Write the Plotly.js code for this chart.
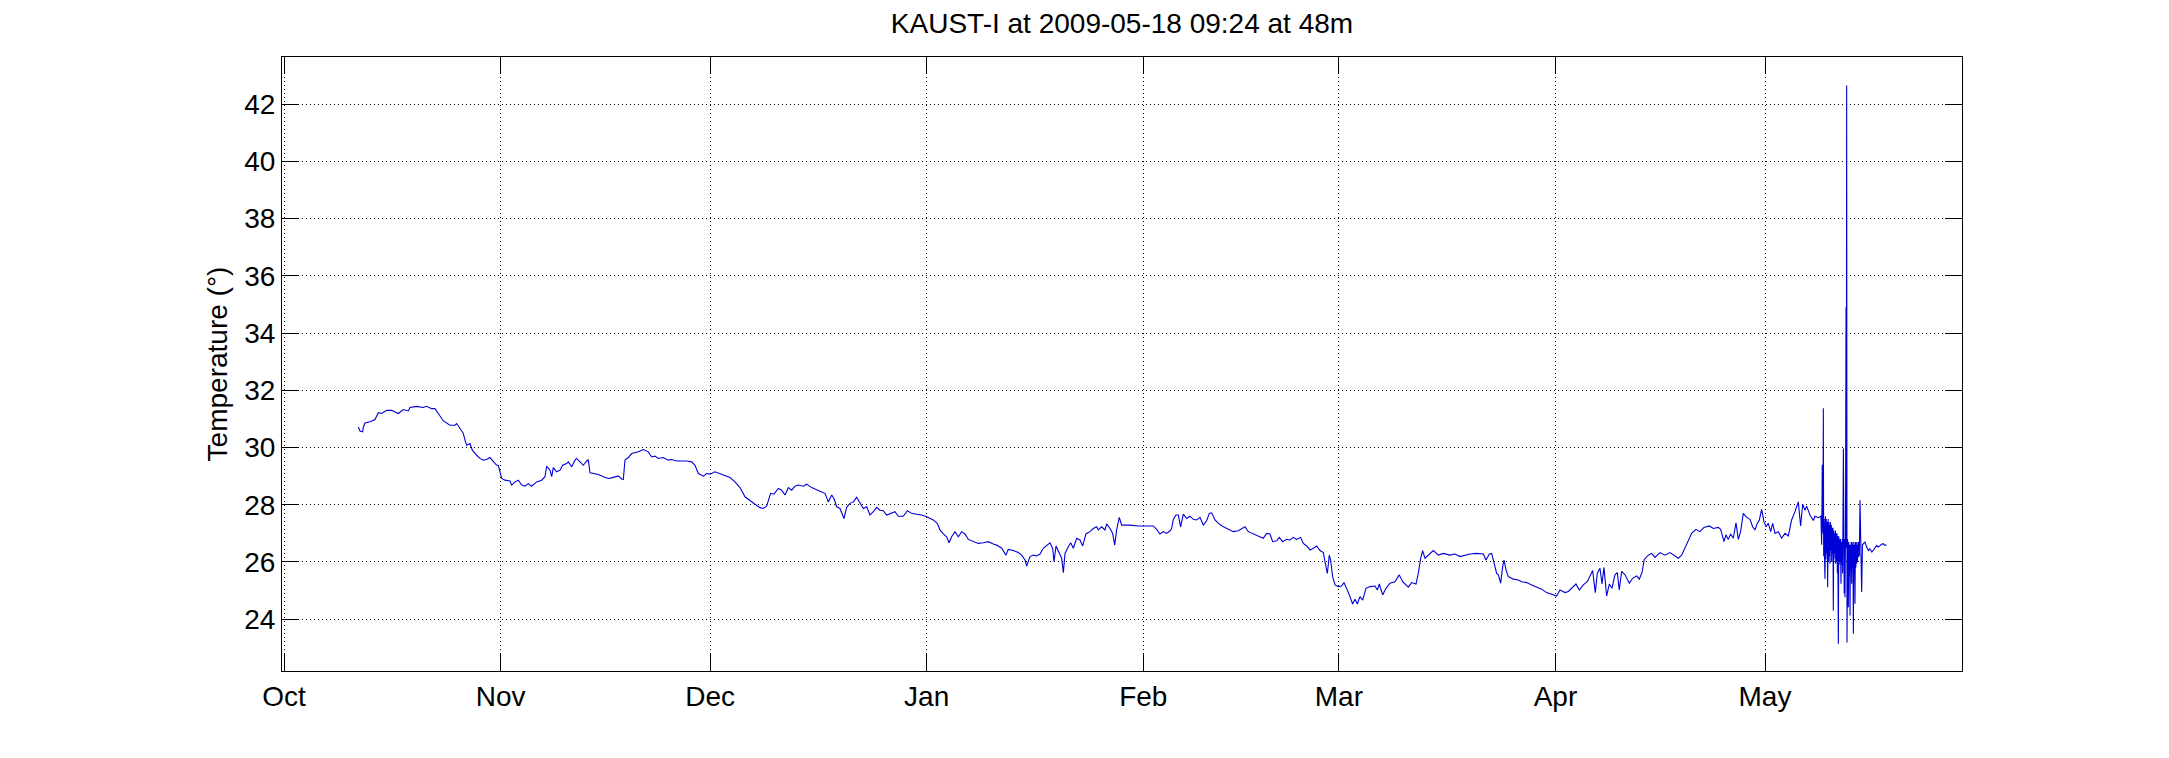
<!DOCTYPE html>
<html>
<head>
<meta charset="utf-8">
<script src="https://cdn.plot.ly/plotly-3.0.1.min.js"></script>
<style>html,body{margin:0;padding:0;background:#fff;}#chart{width:2169px;height:758px;}</style>
</head>
<body>
<div id="chart"></div>
<script>
// days since 2008-10-01 00:00 (UTC) and temperature readings
const seasonStart = '2008-10-01';
const days = [
10.64,10.88,11.26,11.36,11.59,12.31,13.03,13.50,13.98,14.70,15.41,16.37,17.08,17.80,18.04,18.99,19.94,20.42,21.14,21.61,
22.09,22.81,23.76,24.48,24.72,25.19,25.67,25.91,26.15,26.62,26.96,27.58,28.06,28.53,29.01,29.49,29.96,30.44,30.68,30.92,
31.16,31.64,32.35,32.59,33.07,33.54,34.02,34.50,34.97,35.45,36.17,36.88,37.36,37.60,38.08,38.32,38.55,39.03,39.51,39.89,
40.46,40.70,41.18,41.66,41.89,42.37,42.85,43.33,43.56,43.80,44.28,45.00,45.71,46.43,46.90,47.38,47.86,48.34,48.57,48.81,
49.29,49.77,50.24,50.72,51.44,52.15,52.63,53.11,53.58,54.30,55.02,55.49,56.21,57.64,58.36,58.83,59.31,60.03,60.50,60.98,
61.69,62.41,63.13,63.84,64.56,65.27,65.99,66.71,67.42,68.14,68.61,69.09,69.66,70.14,70.76,71.24,71.72,72.19,72.67,73.15,
73.62,74.34,74.82,75.53,76.25,76.96,77.44,77.92,78.40,78.73,79.11,79.59,80.16,80.54,81.02,81.50,81.97,82.45,82.93,83.41,
83.88,84.36,84.84,85.31,85.79,86.27,86.98,87.46,87.94,88.65,89.23,89.85,90.56,91.28,92.00,92.95,93.52,93.90,94.38,94.86,
95.19,95.57,96.05,96.53,97.01,97.48,97.96,98.67,99.39,100.10,100.82,101.54,102.01,102.73,103.35,103.68,104.40,105.12,105.59,106.07,
106.31,106.79,107.26,107.74,108.22,108.69,109.17,109.65,110.03,110.22,110.51,110.84,111.32,111.56,111.80,112.27,112.61,112.99,113.47,113.94,
114.33,114.80,115.37,115.85,116.33,116.57,117.04,117.52,117.76,118.24,118.62,118.91,119.19,119.57,119.91,121.10,122.29,123.49,124.44,124.92,
125.39,125.87,126.35,126.83,127.06,127.30,127.68,128.02,128.35,128.73,129.21,129.69,130.17,130.64,131.12,131.60,132.07,132.46,132.79,133.27,
133.75,134.46,135.18,135.89,136.61,137.09,137.56,138.04,138.75,139.47,140.18,140.66,141.14,141.52,142.09,142.48,142.95,143.53,144.00,144.48,
144.96,145.53,145.91,146.39,146.87,147.34,147.82,148.30,148.78,149.01,149.35,149.63,149.82,150.11,150.45,150.92,151.40,151.73,152.11,152.50,
152.97,153.31,153.64,154.02,154.41,154.88,155.46,156.17,156.51,156.79,157.27,157.74,158.32,159.03,159.65,160.13,160.94,161.42,162.04,162.37,
162.71,162.99,163.33,163.81,164.52,165.24,165.95,166.90,167.62,168.34,169.06,169.78,170.73,171.68,172.06,172.54,172.87,173.21,173.59,173.83,
174.16,174.45,174.64,174.93,175.26,175.97,176.69,177.17,177.88,178.60,179.31,180.03,180.74,181.46,182.18,182.65,183.37,183.85,184.32,184.94,
185.42,185.99,186.56,186.95,187.33,187.71,187.99,188.38,188.67,188.95,189.33,189.71,190.09,190.52,190.86,191.14,191.48,191.96,192.58,193.05,
193.63,194.01,194.39,194.72,195.30,195.77,196.25,196.97,197.68,198.40,199.11,199.59,200.07,200.54,201.02,201.50,202.12,202.69,203.26,204.03,
204.60,205.31,205.65,205.94,206.13,206.41,206.75,207.08,207.46,207.85,208.18,208.51,208.89,209.37,209.85,210.23,210.56,210.90,211.19,211.52,
211.85,212.14,212.48,212.81,213.10,213.43,213.91,214.38,214.86,215.34,215.81,216.29,216.77,217.10,217.39,217.72,217.96,218.44,218.92,219.15,
219.63,220.01,220.11,220.20,220.30,220.35,220.40,220.47,220.53,220.59,220.65,220.71,220.77,220.83,220.90,220.97,221.03,221.09,221.15,221.21,
221.27,221.31,221.37,221.43,221.49,221.55,221.61,221.67,221.73,221.78,221.84,221.90,221.96,222.02,222.08,222.12,222.18,222.24,222.30,222.36,
222.42,222.50,222.56,222.62,222.68,222.74,222.80,222.88,222.94,223.00,223.06,223.12,223.22,223.28,223.34,223.40,223.45,223.52,223.60,223.64,
223.69,223.74,223.82,223.88,223.93,223.99,224.05,224.11,224.17,224.23,224.29,224.35,224.41,224.47,224.53,224.59,224.65,224.71,224.77,224.83,
224.88,224.94,225.00,225.06,225.12,225.18,225.24,225.30,225.36,225.42,225.50,225.60,225.70,225.84,225.95,226.08,226.31,226.55,226.80,227.03,
227.30,227.51,227.75,227.98,228.20,228.46,228.70,228.94,229.10,229.27,229.40
];
const temperature = [
30.72,30.58,30.55,30.72,30.86,30.90,30.98,31.22,31.19,31.30,31.30,31.19,31.33,31.28,31.40,31.44,31.40,31.44,31.36,31.36,
31.19,30.93,30.78,30.78,30.84,30.66,30.49,30.26,30.08,30.14,29.91,29.73,29.62,29.56,29.58,29.65,29.50,29.38,29.38,29.15,
28.92,28.86,28.83,28.69,28.80,28.86,28.69,28.65,28.74,28.65,28.80,28.86,28.98,29.35,29.21,28.98,29.30,29.15,29.21,29.38,
29.44,29.50,29.33,29.56,29.62,29.50,29.38,29.53,29.58,29.12,29.09,29.06,28.98,28.92,28.94,28.98,29.01,28.90,28.88,29.56,
29.65,29.79,29.81,29.85,29.93,29.85,29.67,29.70,29.62,29.65,29.56,29.58,29.53,29.53,29.50,29.38,29.09,29.00,29.09,29.07,
29.15,29.09,29.03,28.95,28.80,28.60,28.28,28.14,28.02,27.90,27.87,27.95,28.40,28.37,28.57,28.51,28.34,28.60,28.51,28.65,
28.69,28.65,28.72,28.60,28.51,28.45,28.40,28.10,28.34,28.22,27.93,27.87,27.52,27.91,28.05,28.10,28.26,28.07,27.87,27.93,
27.64,27.76,27.91,27.81,27.79,27.64,27.72,27.76,27.60,27.60,27.79,27.70,27.67,27.64,27.58,27.47,27.35,27.12,26.98,26.88,
26.67,26.88,27.06,26.88,27.06,26.98,26.79,26.71,26.65,26.67,26.71,26.63,26.59,26.48,26.24,26.44,26.40,26.33,26.24,26.07,
25.86,26.19,26.24,26.21,26.28,26.48,26.59,26.67,26.48,26.01,26.56,26.36,26.13,25.63,26.30,26.53,26.67,26.48,26.83,26.77,
26.56,26.98,27.06,27.17,27.23,27.12,27.23,27.12,27.33,27.17,27.00,26.59,27.12,27.56,27.29,27.29,27.26,27.26,27.26,27.14,
26.98,27.06,27.00,27.09,27.17,27.49,27.64,27.64,27.23,27.67,27.52,27.60,27.49,27.47,27.56,27.29,27.44,27.70,27.72,27.47,
27.35,27.23,27.14,27.06,27.09,27.17,27.23,27.06,26.98,26.91,26.83,27.00,26.98,26.71,26.74,26.86,26.71,26.79,26.77,26.86,
26.79,26.86,26.65,26.56,26.42,26.48,26.56,26.40,26.33,26.01,25.60,26.24,26.07,25.49,25.20,25.14,25.16,25.28,25.08,24.85,
24.53,24.70,24.53,24.79,24.67,25.08,25.14,25.16,25.02,25.23,24.85,25.08,25.26,25.31,25.55,25.31,25.12,25.28,25.23,25.60,
26.13,26.40,26.13,26.24,26.40,26.24,26.30,26.24,26.28,26.19,26.24,26.28,26.30,26.28,26.07,26.28,26.30,26.01,25.60,25.55,
25.26,25.84,26.07,25.72,25.49,25.40,25.37,25.31,25.28,25.20,25.12,25.05,24.93,24.88,24.81,25.02,24.93,24.97,25.08,25.23,
25.02,25.20,25.31,25.49,25.70,24.93,25.60,25.78,25.23,25.81,24.81,25.23,25.08,25.55,25.63,25.02,25.67,25.55,25.26,25.43,
25.51,25.40,25.63,26.09,26.24,26.30,26.16,26.33,26.24,26.33,26.21,26.13,26.24,26.48,26.71,27.00,27.14,27.06,27.21,27.26,
27.17,27.21,27.14,26.88,26.71,26.95,26.79,26.98,26.83,27.37,26.79,27.06,27.70,27.56,27.49,27.23,27.12,27.35,27.47,27.84,
27.41,27.23,27.35,27.06,27.35,27.00,27.06,26.83,27.00,26.91,27.47,27.76,28.10,27.26,28.02,27.81,27.95,27.64,27.45,27.60,
27.55,27.60,26.60,29.40,27.00,31.37,26.20,27.50,26.00,25.41,27.60,26.10,27.50,26.30,27.40,25.12,27.50,26.00,27.40,26.20,
27.30,25.94,27.40,26.40,27.30,26.00,27.20,26.30,27.20,24.30,27.10,26.10,27.00,26.30,27.10,25.94,27.00,26.00,27.00,25.60,
26.90,23.14,26.90,25.90,26.80,26.00,26.80,25.24,26.70,25.90,26.80,25.60,29.97,26.20,24.90,26.80,24.77,26.90,34.90,26.50,
42.65,23.19,26.80,25.60,24.42,26.70,25.50,26.60,24.13,26.60,25.70,26.70,25.24,26.70,25.80,26.60,23.49,26.70,25.60,26.60,
24.54,26.70,25.80,26.70,25.94,26.60,26.00,26.70,26.17,26.70,26.20,28.16,26.50,24.95,26.60,26.64,26.70,26.52,26.40,26.46,
26.35,26.41,26.50,26.58,26.52,26.58,26.62,26.64,26.58,26.60,26.58
];
const monthTicks = ['2008-10-01','2008-11-01','2008-12-01','2009-01-01','2009-02-01','2009-03-01','2009-04-01','2009-05-01'];
const monthLabels = ['Oct','Nov','Dec','Jan','Feb','Mar','Apr','May'];
const tempTicks = [24,26,28,30,32,34,36,38,40,42];

const t0 = Date.parse(seasonStart + 'T00:00:00Z');
const times = days.map(d => new Date(t0 + d * 86400000).toISOString().slice(0,19).replace('T',' '));

const axisCommon = {
  ticks: 'inside', ticklen: 17, tickwidth: 1, tickcolor: '#000',
  showline: true, linecolor: '#000', linewidth: 1, mirror: 'ticks',
  showgrid: true, gridcolor: '#000', gridwidth: 1, griddash: '1px,3px',
  zeroline: false, tickfont: {size: 28, color: '#000'}
};

const trace = {
  x: times, y: temperature, type: 'scatter', mode: 'lines',
  line: {color: '#0000d8', width: 1.1}, hoverinfo: 'skip'
};

const layout = {
  width: 2169, height: 758,
  margin: {l: 282, r: 207, t: 57, b: 87},
  paper_bgcolor: '#fff', plot_bgcolor: '#fff',
  font: {family: '"Liberation Sans", Arial, Helvetica, sans-serif', size: 28, color: '#000'},
  showlegend: false,
  title: {text: 'KAUST-I at 2009-05-18 09:24 at 48m', x: 0.5, xref: 'paper', y: 0.9697, yref: 'container', yanchor: 'middle', font: {size: 28, color: '#000'}},
  xaxis: Object.assign({}, axisCommon, {
    type: 'date', range: ['2008-09-30 17:08', '2009-05-29 04:48'],
    tickmode: 'array', tickvals: monthTicks, ticktext: monthLabels
  }),
  yaxis: Object.assign({}, axisCommon, {
    range: [22.19, 43.65], tickmode: 'array', tickvals: tempTicks,
    title: {text: 'Temperature (°)', standoff: 8, font: {size: 28, color: '#000'}}
  })
};

Plotly.newPlot('chart', [trace], layout, {staticPlot: true, displayModeBar: false});
</script>
</body>
</html>
